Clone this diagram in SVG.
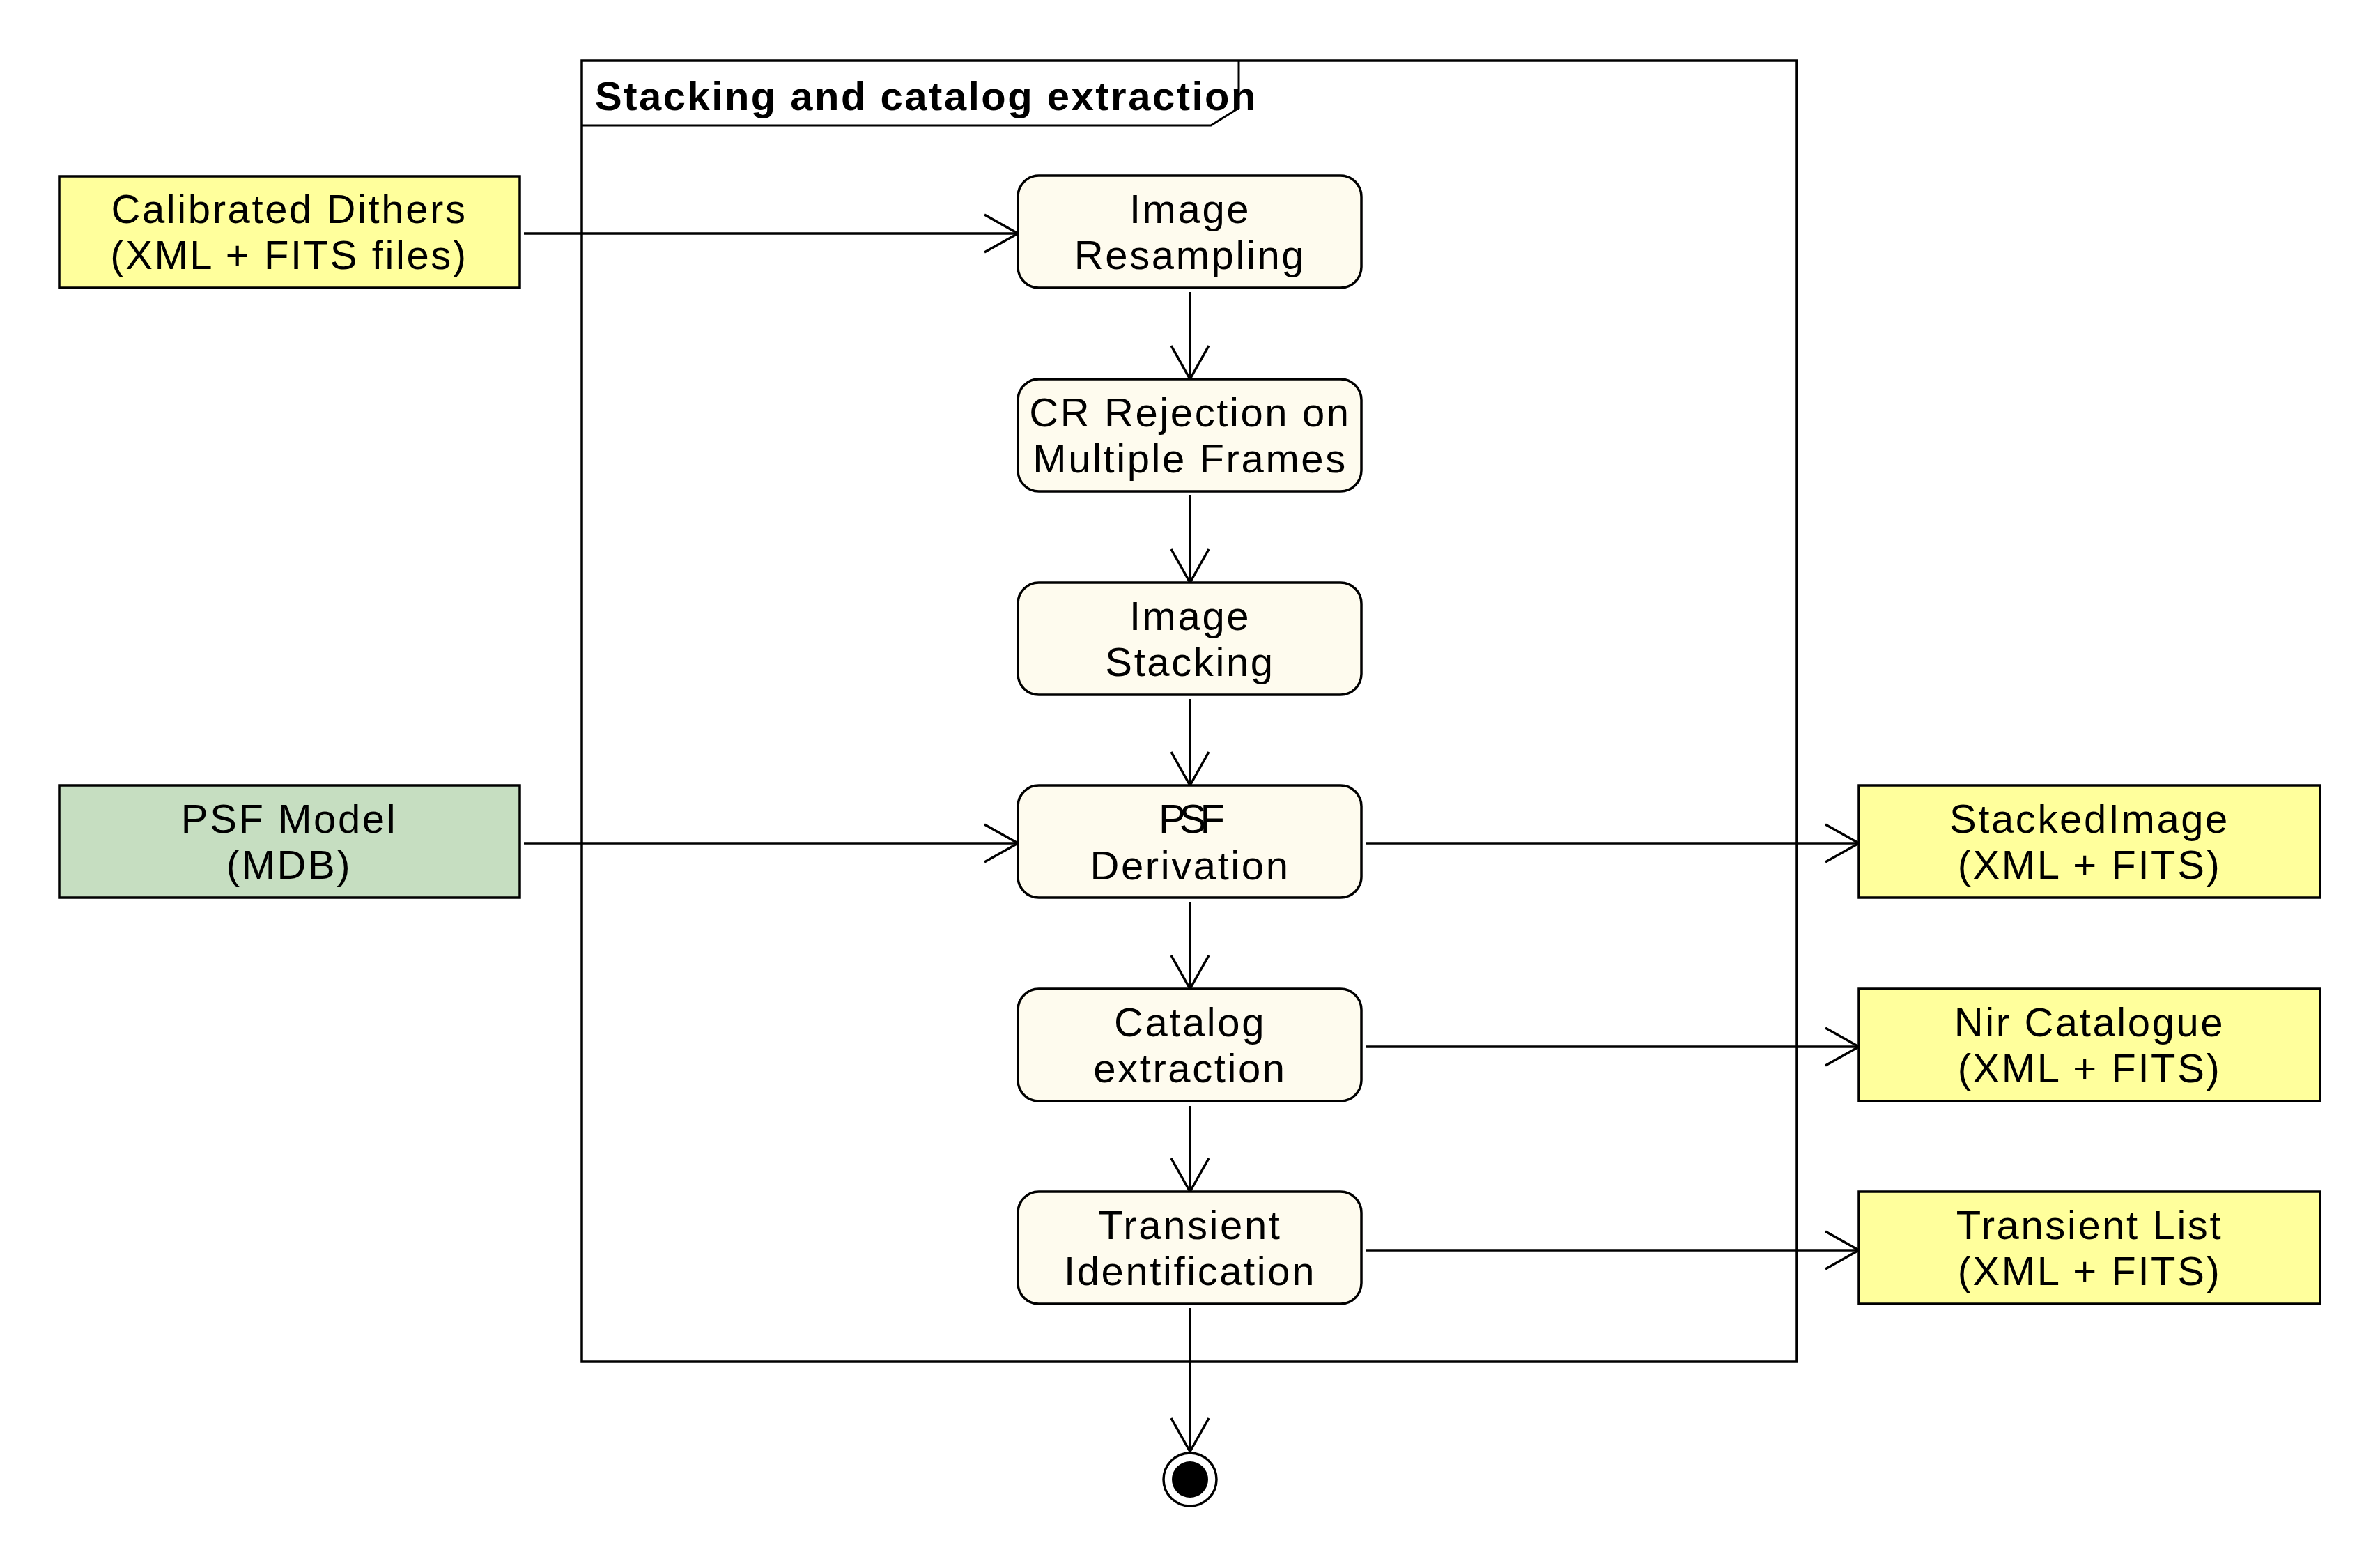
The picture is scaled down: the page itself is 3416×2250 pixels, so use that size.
<svg xmlns="http://www.w3.org/2000/svg" width="3416" height="2250" viewBox="0 0 3416 2250">
<style>
.bg{fill:#ffffff}
.act{fill:#FEFBEE;stroke:#000;stroke-width:3.5}
.obj{fill:#FFFF9C;stroke:#000;stroke-width:3.5}
.mdb{fill:#C6DEC1;stroke:#000;stroke-width:3.5}
.frame{fill:none;stroke:#000;stroke-width:3.5}
.tab{fill:none;stroke:#000;stroke-width:3}
.t{font-family:"Liberation Sans",Arial,Helvetica,sans-serif;font-size:58px;letter-spacing:2.6px;text-anchor:middle;fill:#000}
.title{font-family:"Liberation Sans",Arial,Helvetica,sans-serif;font-size:58px;font-weight:bold;letter-spacing:2.5px;fill:#000}
.c{fill:none;stroke:#000;stroke-width:3.5}
</style>
<defs>
<marker id="arr" markerUnits="userSpaceOnUse" markerWidth="60" markerHeight="64" viewBox="-2 -4 56 64" refX="48" refY="27" orient="auto" overflow="visible">
<path d="M0,0 L48,27 L0,54" fill="none" stroke="#000" stroke-width="3.5"/>
</marker>
</defs>
<rect class="bg" x="0" y="0" width="3416" height="2250"/>

<g id="frame">
<rect class="frame" x="835" y="87" width="1744" height="1867"/>
<path class="tab" d="M835,180 L1738,180 L1778,155 L1778,87"/>
<text class="title" x="854" y="158">Stacking and catalog extraction</text>
</g>

<g id="connectors">
<path class="c" d="M752,335 L1461,335" marker-end="url(#arr)"/>
<path class="c" d="M752,1210 L1461,1210" marker-end="url(#arr)"/>
<path class="c" d="M1708,419 L1708,544" marker-end="url(#arr)"/>
<path class="c" d="M1708,711 L1708,836" marker-end="url(#arr)"/>
<path class="c" d="M1708,1003 L1708,1127" marker-end="url(#arr)"/>
<path class="c" d="M1708,1295 L1708,1419" marker-end="url(#arr)"/>
<path class="c" d="M1708,1587 L1708,1710" marker-end="url(#arr)"/>
<path class="c" d="M1708,1877 L1708,2083" marker-end="url(#arr)"/>
<path class="c" d="M1960,1210 L2668,1210" marker-end="url(#arr)"/>
<path class="c" d="M1960,1502 L2668,1502" marker-end="url(#arr)"/>
<path class="c" d="M1960,1794 L2668,1794" marker-end="url(#arr)"/>
</g>

<g id="calibrated-dithers">
<rect class="obj" x="85" y="253" width="661" height="160"/>
<text class="t" x="415" y="320">Calibrated Dithers</text>
<text class="t" x="415" y="386">(XML + FITS files)</text>
</g>

<g id="psf-model">
<rect class="mdb" x="85" y="1127" width="661" height="161"/>
<text class="t" x="415" y="1195">PSF Model</text>
<text class="t" x="415" y="1261">(MDB)</text>
</g>

<g id="image-resampling">
<rect class="act" x="1461" y="252" width="493" height="161" rx="30" ry="30"/>
<text class="t" x="1708" y="320">Image</text>
<text class="t" x="1708" y="386">Resampling</text>
</g>

<g id="cr-rejection">
<rect class="act" x="1461" y="544" width="493" height="161" rx="30" ry="30"/>
<text class="t" x="1708" y="612">CR Rejection on</text>
<text class="t" x="1708" y="678">Multiple Frames</text>
</g>

<g id="image-stacking">
<rect class="act" x="1461" y="836" width="493" height="161" rx="30" ry="30"/>
<text class="t" x="1708" y="904">Image</text>
<text class="t" x="1708" y="970">Stacking</text>
</g>

<g id="psf-derivation">
<rect class="act" x="1461" y="1127" width="493" height="161" rx="30" ry="30"/>
<text class="t" x="1706" y="1195" style="letter-spacing:-9px">PSF</text>
<text class="t" x="1708" y="1262">Derivation</text>
</g>

<g id="catalog-extraction">
<rect class="act" x="1461" y="1419" width="493" height="161" rx="30" ry="30"/>
<text class="t" x="1708" y="1487">Catalog</text>
<text class="t" x="1708" y="1553">extraction</text>
</g>

<g id="transient-identification">
<rect class="act" x="1461" y="1710" width="493" height="161" rx="30" ry="30"/>
<text class="t" x="1708" y="1778">Transient</text>
<text class="t" x="1708" y="1844">Identification</text>
</g>

<g id="stacked-image">
<rect class="obj" x="2668" y="1127" width="662" height="161"/>
<text class="t" x="2999" y="1195">StackedImage</text>
<text class="t" x="2999" y="1261">(XML + FITS)</text>
</g>

<g id="nir-catalogue">
<rect class="obj" x="2668" y="1419" width="662" height="161"/>
<text class="t" x="2999" y="1487">Nir Catalogue</text>
<text class="t" x="2999" y="1553">(XML + FITS)</text>
</g>

<g id="transient-list">
<rect class="obj" x="2668" y="1710" width="662" height="161"/>
<text class="t" x="2999" y="1778">Transient List</text>
<text class="t" x="2999" y="1844">(XML + FITS)</text>
</g>

<g id="end">
<circle cx="1708" cy="2123" r="38" fill="#fff" stroke="#000" stroke-width="3.5"/>
<circle cx="1708" cy="2123" r="26" fill="#000"/>
</g>
</svg>
